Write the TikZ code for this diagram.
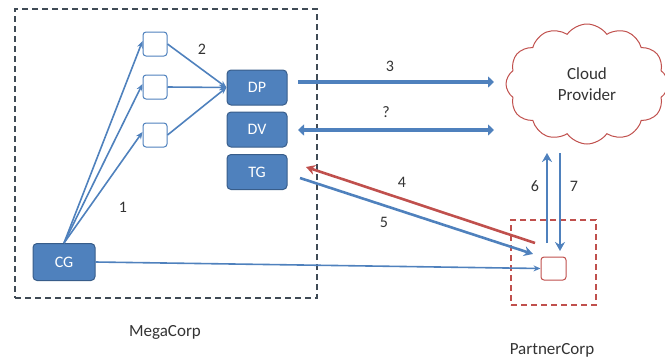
\documentclass[tikz,border=0pt]{standalone}
\usepackage{fontspec}
\setmainfont{Carlito}
\usetikzlibrary{arrows.meta,shapes.symbols}
\definecolor{bfill}{HTML}{4F81BD}
\definecolor{bdraw}{HTML}{385D8A}
\definecolor{rline}{HTML}{C0504D}
\definecolor{dgray}{HTML}{3F4A55}
\begin{document}
\begin{tikzpicture}[x=1pt,y=-1pt,
  bluebox/.style={draw=bdraw,fill=bfill,rounded corners=4pt,line width=1pt,text=white,font=\fontsize{16}{16}\selectfont,minimum width=60pt,minimum height=35pt,inner sep=0pt},
  smallbox/.style={draw=bfill,fill=white,rounded corners=3pt,line width=1pt,minimum width=24pt,minimum height=24pt,inner sep=0pt},
  lbl/.style={font=\fontsize{16}{16}\selectfont,text=black!80},
  thin/.style={draw=bfill,line width=1.6pt,-{Stealth[length=7pt,width=6pt]}},
  thick/.style={draw=bfill,line width=3.5pt,-{Triangle[length=6pt,width=11pt]}},
  mid/.style={line width=2.6pt,-{Stealth[length=9pt,width=10pt]}}]
\useasboundingbox (0,0) rectangle (665,360);
% containers
\node[draw=dgray,dashed,line width=1.1pt,dash pattern=on 6pt off 4pt,minimum width=302pt,minimum height=289pt,inner sep=0pt] (mega) at (166,153.5) {};
\node[draw=rline,dashed,line width=1.3pt,dash pattern=on 6pt off 4pt,minimum width=85pt,minimum height=85pt,inner sep=0pt] (partner) at (553.5,262.5) {};
\node[cloud,draw=rline,line width=1pt,cloud puffs=12,cloud puff arc=110,aspect=1.4,minimum width=162pt,minimum height=120pt,inner sep=0pt,align=center,font=\fontsize{17}{21}\selectfont,text=black!80] (cloud) at (587,84) {Cloud\\Provider};
% boxes
\node[smallbox] (b1) at (155,44) {};
\node[smallbox] (b2) at (155,87) {};
\node[smallbox] (b3) at (155,135) {};
\node[bluebox] (DP) at (257,87.5) {DP};
\node[bluebox] (DV) at (257,129.5) {DV};
\node[bluebox] (TG) at (257,172) {TG};
\node[bluebox,minimum width=62pt,minimum height=37pt] (CG) at (64,262) {CG};
\node[draw=rline,fill=white,rounded corners=3pt,line width=1pt,minimum width=25pt,minimum height=23pt,inner sep=0pt] (pb) at (553.5,268.5) {};
% coordinates
\coordinate (a3s) at (298,82); \coordinate (a3e) at (494,82);
\coordinate (aqs) at (298,130); \coordinate (aqe) at (494,130);
\coordinate (a4s) at (535,243); \coordinate (a4e) at (306,167);
\coordinate (a5s) at (300,178); \coordinate (a5e) at (533,254);
\coordinate (a6s) at (547,243); \coordinate (a6e) at (547,153);
\coordinate (a7s) at (560,153); \coordinate (a7e) at (560,251);
% connectors
\draw[thin] (CG.north) -- ([yshift=3pt]b1.west);
\draw[thin] (CG.north) -- ([yshift=3pt]b2.west);
\draw[thin] (CG.north) -- ([yshift=3pt]b3.west);
\draw[thin] (b1.east) -- (DP.west);
\draw[thin] (b2.east) -- (DP.west);
\draw[thin] (b3.east) -- (DP.west);
\draw[thick] (a3s) -- (a3e);
\draw[thick,{Triangle[length=6pt,width=11pt]}-{Triangle[length=6pt,width=11pt]}] (aqs) -- (aqe);
\draw[mid,draw=rline] (a4s) -- (a4e);
\draw[mid,draw=bfill] (a5s) -- (a5e);
\draw[mid,draw=bfill] (a6s) -- (a6e);
\draw[mid,draw=bfill] (a7s) -- (a7e);
\draw[thin] (CG.east) -- (pb.west);
% labels
\node[lbl] at (202,49) {2};
\node[lbl] at (123,207) {1};
\node[lbl] at (390,66) {3};
\node[lbl] at (386,112) {?};
\node[lbl] at (402,182) {4};
\node[lbl] at (384,222) {5};
\node[lbl] at (535,186) {6};
\node[lbl] at (574,186) {7};
\node[lbl,font=\fontsize{17}{17}\selectfont] at (165,332) {MegaCorp};
\node[lbl,font=\fontsize{17}{17}\selectfont] at (552,350) {PartnerCorp};
\end{tikzpicture}
\end{document}
